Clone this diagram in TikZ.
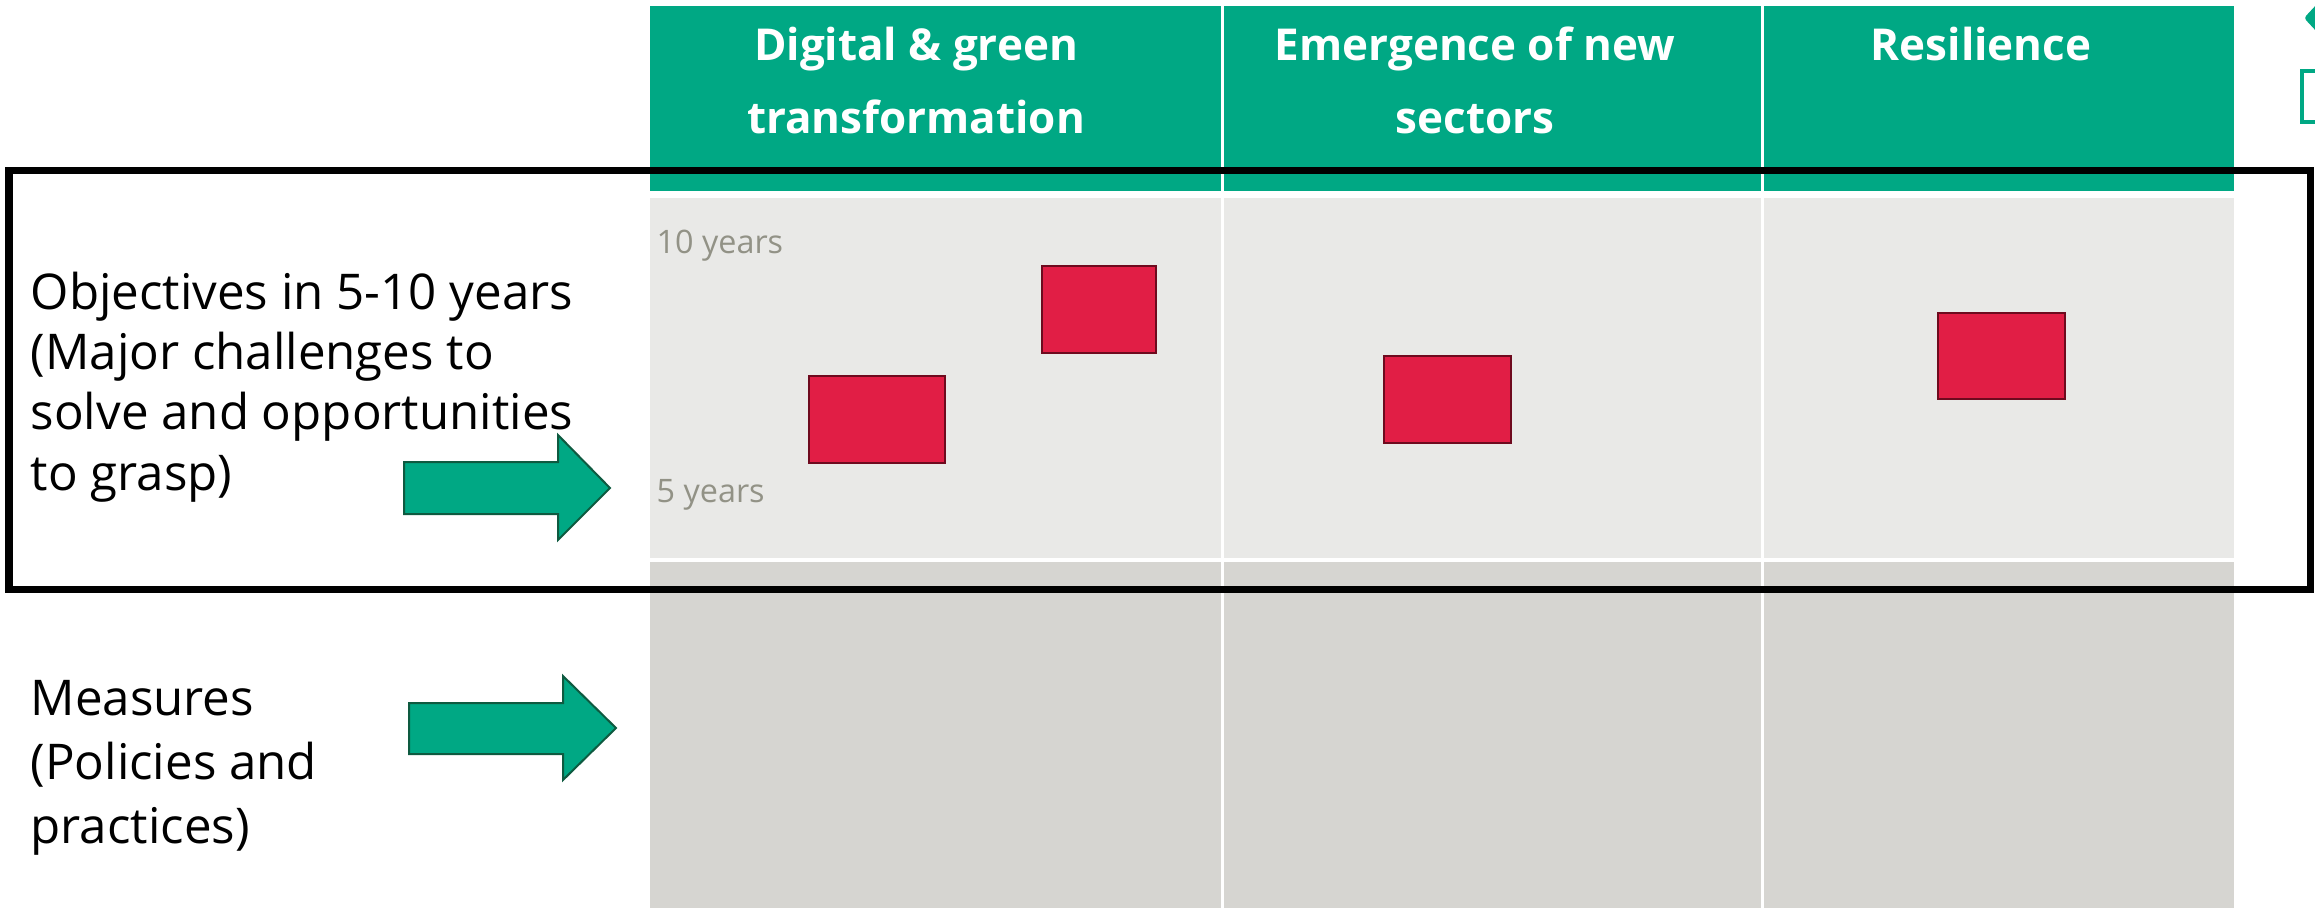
\documentclass[tikz,border=0pt]{standalone}
\usepackage{fontspec}
\setmainfont{Open Sans}
\usetikzlibrary{positioning}

\definecolor{hdgreen}{HTML}{00A884}
\definecolor{arrowline}{HTML}{0E5A40}
\definecolor{rowlight}{HTML}{E9E9E7}
\definecolor{rowdark}{HTML}{D6D5D1}
\definecolor{boxred}{HTML}{E11E45}
\definecolor{boxline}{HTML}{6E0A1E}
\definecolor{yrgrey}{HTML}{929286}

\begin{document}
\begin{tikzpicture}[x=0.01cm, y=-0.01cm,
  hdtext/.style={text=white, align=center, inner sep=0pt,
    font=\fontsize{12.5pt}{20.7pt}\selectfont\bfseries},
  rowtext/.style={align=left, inner sep=0pt},
  yrtext/.style={text=yrgrey, inner sep=0pt, font=\fontsize{9.2pt}{11pt}\selectfont},
  redbox/.style={fill=boxred, draw=boxline, line width=0.02cm},
  greenarrow/.style={fill=hdgreen, draw=arrowline, line width=0.02cm}]
\useasboundingbox (0,0) rectangle (2315,908);

% Header row
\fill[hdgreen] (650,6) rectangle (1221,191);
\fill[hdgreen] (1224,6) rectangle (1761,191);
\fill[hdgreen] (1764,6) rectangle (2234,191);
\node[hdtext, anchor=base] (hdDigital) at (916,133) {Digital \& green\\transformation};
\node[hdtext, anchor=base] (hdSectors) at (1475,133) {Emergence of new\\sectors};
\node[hdtext, anchor=base] (hdResil) at (1981,60) {Resilience};

% Objectives row
\fill[rowlight] (650,198) rectangle (1221,558);
\fill[rowlight] (1224,198) rectangle (1761,558);
\fill[rowlight] (1764,198) rectangle (2234,558);
\node[yrtext, anchor=base west] (tenYears) at (656,253) {10 years};
\node[yrtext, anchor=base west] (fiveYears) at (656,502) {5 years};
\draw[redbox] (809,376) rectangle (945,463);
\draw[redbox] (1042,266) rectangle (1156,353);
\draw[redbox] (1384,356) rectangle (1511,443);
\draw[redbox] (1938,313) rectangle (2065,399);

% Measures row
\fill[rowdark] (650,562) rectangle (1221,908);
\fill[rowdark] (1224,562) rectangle (1761,908);
\fill[rowdark] (1764,562) rectangle (2234,908);

% Row labels and arrows
\node[rowtext, anchor=base west, font=\fontsize{14pt}{17.1pt}\selectfont] (objText) at (30,490)
  {Objectives in 5-10 years\\(Major challenges to\\solve and opportunities\\to grasp)};
\node[rowtext, anchor=base west, font=\fontsize{14pt}{18.2pt}\selectfont] (measText) at (30,843)
  {Measures\\(Policies and\\practices)};
\filldraw[greenarrow] (404,462) -- (558,462) -- (558,435) -- (610,488)
  -- (558,540) -- (558,514) -- (404,514) -- cycle;
\filldraw[greenarrow] (409,703) -- (563,703) -- (563,676) -- (616,728)
  -- (563,780) -- (563,754) -- (409,754) -- cycle;

% Frame around the objectives row
\draw[line width=0.07cm] (9,170) rectangle (2310,589);

% cut-off shapes at the right edge
\fill[hdgreen, rounded corners=0.03cm] (2330,-10) -- (2304,18) -- (2330,46) -- cycle;
\draw[hdgreen, line width=0.035cm] (2330,71) -- (2302,71) -- (2302,122) -- (2330,122);
\end{tikzpicture}
\end{document}
